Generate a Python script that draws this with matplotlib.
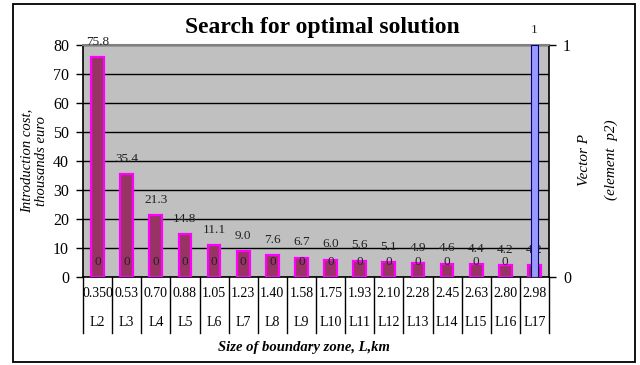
import matplotlib.pyplot as plt
from matplotlib.transforms import blended_transform_factory
from matplotlib.patches import Rectangle

plt.rcParams['font.family'] = ['Liberation Serif', 'DejaVu Serif']

# data
zones = ["L2", "L3", "L4", "L5", "L6", "L7", "L8", "L9", "L10",
         "L11", "L12", "L13", "L14", "L15", "L16", "L17"]
sizes = ["0.350", "0.53", "0.70", "0.88", "1.05", "1.23", "1.40", "1.58",
         "1.75", "1.93", "2.10", "2.28", "2.45", "2.63", "2.80", "2.98"]
cost = [75.8, 35.4, 21.3, 14.8, 11.1, 9.0, 7.6, 6.7, 6.0, 5.6, 5.1,
        4.9, 4.6, 4.4, 4.2, 4.2]
p2 = [0, 0, 0, 0, 0, 0, 0, 0, 0, 0, 0, 0, 0, 0, 0, 1]

W, H = 640, 365
fig = plt.figure(figsize=(W / 100, H / 100), dpi=100)
fig.patch.set_facecolor("white")
fig.patches.append(Rectangle((13 / W, 1 - 362 / H), 622 / W, 358 / H,
                             transform=fig.transFigure, fill=False,
                             edgecolor="black", linewidth=1.3))

ax = fig.add_axes([83 / W, 1 - 277 / H, 466 / W, 232 / H])
ax.set_facecolor("#C0C0C0")
x = list(range(len(zones)))

ax.bar(x, cost, width=0.44, color="#993366", edgecolor="#FF00FF",
       linewidth=1.6, zorder=3)
for xi, v in zip(x, cost):
    ax.annotate(f"{v:.1f}", (xi, v), xytext=(0, 11), textcoords="offset points",
                ha="center", va="center", fontsize=9.5, color="#222222")

ax.set_xlim(-0.5, len(zones) - 0.5)
ax.set_ylim(0, 80)
ax.set_yticks(range(0, 81, 10))
ax.yaxis.grid(True, color="black", linewidth=1.0)
ax.set_axisbelow(True)
ax.tick_params(axis="y", labelsize=11.5, length=5, width=1, pad=5)
ax.set_xticks([])
for s in ["left", "bottom", "right"]:
    ax.spines[s].set_color("black")
    ax.spines[s].set_linewidth(1.2)
ax.spines["top"].set_color("#808080")
ax.spines["top"].set_linewidth(1.5)

# two-level category axis
tr = blended_transform_factory(ax.transData, ax.transAxes)
for i in range(len(zones) + 1):
    ax.plot([i - 0.5, i - 0.5], [0, -0.241], transform=tr, clip_on=False,
            color="black", linewidth=1.0)
for xi, s, z in zip(x, sizes, zones):
    ax.text(xi, -0.069, s, transform=tr, ha="center", va="center", fontsize=10)
    ax.text(xi, -0.198, z, transform=tr, ha="center", va="center", fontsize=10)

ax.set_ylabel("Introduction cost,\nthousands euro", fontsize=10.5,
              style="italic", labelpad=4, linespacing=1.1)

ax2 = ax.twinx()
ax2.bar(x, p2, width=0.24, color="#9999FF", edgecolor="#000080",
        linewidth=0.8, zorder=3)
for xi, v in zip(x, p2):
    ax2.annotate(f"{v}", (xi, v), xytext=(0, 11), textcoords="offset points",
                 ha="center", va="center", fontsize=9.5, color="#222222")
ax2.set_ylim(0, 1)
ax2.set_yticks([0, 1])
ax2.tick_params(axis="y", labelsize=11.5, length=5, width=1, pad=5)
ax2.set_xlim(-0.5, len(zones) - 0.5)
for s in ax2.spines.values():
    s.set_visible(False)

fig.text(584 / W, 1 - 160 / H, "Vector P", rotation=90, style="italic",
         fontsize=11, ha="center", va="center")
fig.text(611 / W, 1 - 160 / H, "(element  p2)", rotation=90, style="italic",
         fontsize=11, ha="center", va="center")

fig.text(322 / W, 1 - 27 / H, "Search for optimal solution", fontsize=17,
         weight="bold", ha="center", va="center")
fig.text(304 / W, 1 - 347 / H, "Size of boundary zone, L,km", fontsize=10.5,
         weight="bold", style="italic", ha="center", va="center")

fig.savefig("out.png", dpi=100)
